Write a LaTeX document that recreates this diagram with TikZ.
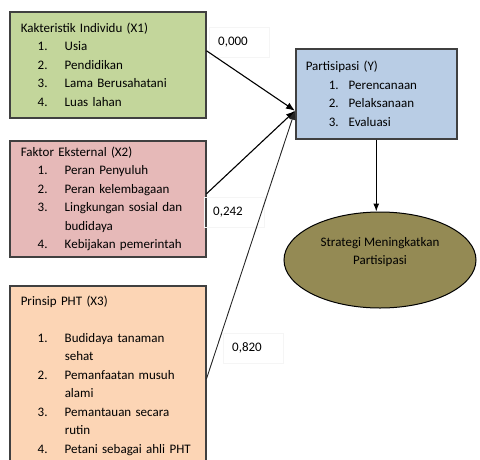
\documentclass[tikz,border=0pt]{standalone}
\usepackage{fontspec}
\setmainfont{Carlito}
\usetikzlibrary{calc,shapes.geometric,arrows.meta}

\definecolor{xgreen}{HTML}{C3D69B}
\definecolor{xpink}{HTML}{E6B9B8}
\definecolor{xpeach}{HTML}{FCD5B5}
\definecolor{yblue}{HTML}{B9CDE5}
\definecolor{olive}{HTML}{948A54}

\newlength{\nind}
\newlength{\nwid}
\setlength{\nind}{17pt}
\setlength{\nwid}{27pt}
\newcommand{\nitem}[2]{\hspace*{\nind}\makebox[\nwid][l]{#1}#2}
\newcommand{\nmore}[1]{\hspace*{\nind}\hspace*{\nwid}#1}

\begin{document}
\begin{tikzpicture}[x=1pt,y=-1pt,
    factor/.style={draw=black!75, line width=1.5pt, anchor=north west, align=left,
      inner xsep=11pt, inner ysep=0pt, text width=174pt, minimum width=196pt,
      font=\fontsize{13}{18.5}\selectfont},
    goal/.style={ellipse, draw=black, line width=1pt, fill=olive,
      minimum width=192pt, minimum height=96pt},
    coef/.style={draw=black!4, anchor=north west, align=left, inner xsep=9pt,
      text width=42pt, minimum height=30pt, font=\fontsize{13}{15}\selectfont},
    link/.style={line width=1.1pt, -{Latex[length=9pt,width=7pt]}}]
    \useasboundingbox (0,0) rectangle (480,459);

    \node[factor, fill=xgreen, minimum height=106pt] (x1) at (9,11) {%
      Kakteristik Individu (X1)\\
      \nitem{1.}{Usia}\\
      \nitem{2.}{Pendidikan}\\
      \nitem{3.}{Lama Berusahatani}\\
      \nitem{4.}{Luas lahan}};
    \node[factor, fill=xpink, minimum height=116pt] (x2) at (9,140) {%
      Faktor Eksternal (X2)\\
      \nitem{1.}{Peran Penyuluh}\\
      \nitem{2.}{Peran kelembagaan}\\
      \nitem{3.}{Lingkungan sosial dan}\\
      \nmore{budidaya}\\
      \nitem{4.}{Kebijakan pemerintah}};
    \node[factor, fill=xpeach, minimum height=180pt] (x3) at (9,285) {%
      Prinsip PHT (X3)\\
      \mbox{}\\
      \nitem{1.}{Budidaya tanaman}\\
      \nmore{sehat}\\
      \nitem{2.}{Pemanfaatan musuh}\\
      \nmore{alami}\\
      \nitem{3.}{Pemantauan secara}\\
      \nmore{rutin}\\
      \nitem{4.}{Petani sebagai ahli PHT}};
    \node[factor, fill=yblue, minimum height=90pt, minimum width=161pt,
      inner xsep=10pt, text width=141pt] (y) at (295,48) {%
      \setlength{\nind}{23pt}\setlength{\nwid}{20pt}%
      Partisipasi (Y)\\
      \nitem{1.}{Perencanaan}\\
      \nitem{2.}{Pelaksanaan}\\
      \nitem{3.}{Evaluasi}};

    \node[goal] (st) at (380,260) {};
    \node[align=center, font=\fontsize{13}{18.5}\selectfont] (sttext)
      at ([yshift=8pt]st.center) {Strategi Meningkatkan\\Partisipasi};

    \node[coef] (c1) at (209,27) {0,000};
    \node[coef] (c2) at (204,197) {0,242};
    \node[coef] (c3) at (223,333) {0,820};

    \coordinate (tip) at ([yshift=-17pt]y.west);
    \draw[link] ([yshift=14pt]x1.east) -- (tip);
    \draw[link] ([yshift=5pt]x2.east) -- (tip);
    \draw[link, line width=0.9pt, black!85] ([yshift=-3pt]x3.east) -- (tip);
    \draw[line width=1pt, -{Latex[length=8pt,width=6pt]}] (y.south) -- (y.south |- st.north);
\end{tikzpicture}
\end{document}
